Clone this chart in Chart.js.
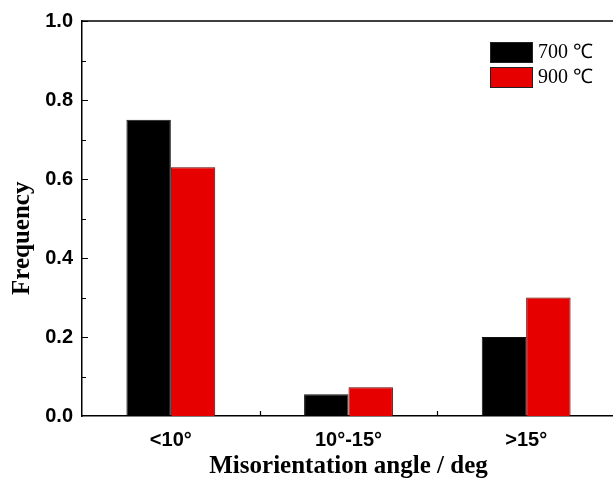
<!DOCTYPE html>
<html>
<head>
<meta charset="utf-8">
<script src="https://cdn.jsdelivr.net/npm/chart.js@4"></script>
<style>
html, body { margin: 0; padding: 0; background: #fff; overflow: hidden; }
#wrap { width: 613px; height: 490px; overflow: hidden; }
</style>
</head>
<body>
<div id="wrap"><canvas id="angleChart" width="620" height="490"></canvas></div>
<script>
const categories = ["<10°", "10°-15°", ">15°"];
const freq700 = [0.75, 0.055, 0.20];
const freq900 = [0.63, 0.073, 0.30];
const seriesLabels = ["700 ℃", "900 ℃"];

// frame top line, inward ticks, y title and boxed legend
const framePlugin = {
  id: "frame",
  afterDraw(chart) {
    const c = chart.ctx;
    const area = chart.chartArea;
    const x = chart.scales.x;
    const y = chart.scales.y;
    c.save();
    c.strokeStyle = "#000";
    c.lineWidth = 1.5;
    c.beginPath();
    c.moveTo(area.left, area.top);
    c.lineTo(area.right, area.top);
    c.stroke();

    c.lineWidth = 1.2;
    c.beginPath();
    for (let v = 0.1; v < 1; v += 0.1) {
      const py = Math.round(y.getPixelForValue(v)) + 0.5;
      const major = Math.round(v * 10) % 2 === 0;
      c.moveTo(area.left, py);
      c.lineTo(area.left + (major ? 6 : 4), py);
    }
    for (let i = 0; i < categories.length - 1; i++) {
      const px = Math.round((x.getPixelForValue(i) + x.getPixelForValue(i + 1)) / 2) + 0.5;
      c.moveTo(px, area.bottom);
      c.lineTo(px, area.bottom - 5);
    }
    c.stroke();

    // y axis title, sitting a bit below the middle like the original
    c.save();
    c.translate(23, y.getPixelForValue(0.45));
    c.rotate(-Math.PI / 2);
    c.fillStyle = "#000";
    c.font = "bold 25px 'Liberation Serif'";
    c.textAlign = "center";
    c.textBaseline = "middle";
    c.fillText("Frequency", 0, 0);
    c.restore();

    // legend
    const lx = area.right - 125;
    let ly = area.top + 21;
    chart.data.datasets.forEach(ds => {
      c.fillStyle = ds.backgroundColor;
      c.fillRect(lx, ly, 43, 21);
      c.strokeStyle = "#222";
      c.lineWidth = 1;
      c.strokeRect(lx + 0.5, ly + 0.5, 42, 20);
      c.fillStyle = "#000";
      c.font = "20px 'Liberation Serif'";
      c.textBaseline = "middle";
      c.fillText(ds.label, lx + 48, ly + 11);
      ly += 25;
    });
    c.restore();
  }
};

new Chart(document.getElementById("angleChart"), {
  type: "bar",
  data: {
    labels: categories,
    datasets: [
      { label: seriesLabels[0], data: freq700, backgroundColor: "#000000", borderColor: "#111111", borderWidth: 1 },
      { label: seriesLabels[1], data: freq900, backgroundColor: "#e60000", borderColor: "#5a0000", borderWidth: 1 }
    ]
  },
  options: {
    responsive: false,
    animation: false,
    layout: { padding: { top: 21, right: 5, left: 0, bottom: 0 } },
    datasets: { bar: { categoryPercentage: 0.5, barPercentage: 1 } },
    plugins: { legend: { display: false }, tooltip: { enabled: false } },
    scales: {
      x: {
        grid: { display: false, drawTicks: false },
        border: { display: true, color: "#000", width: 1.5 },
        ticks: { padding: 12, color: "#000", font: { family: "'Liberation Sans'", size: 20, weight: "bold" } },
        title: {
          display: true,
          text: "Misorientation angle / deg",
          color: "#000",
          font: { family: "'Liberation Serif'", size: 25, weight: "bold" },
          padding: { top: 0, bottom: 8 }
        },
        afterFit: s => { s.height = 74; }
      },
      y: {
        min: 0,
        max: 1,
        grid: { display: false, drawTicks: false },
        border: { display: true, color: "#000", width: 1.5 },
        ticks: {
          stepSize: 0.2,
          padding: 9,
          color: "#000",
          font: { family: "'Liberation Sans'", size: 20, weight: "bold" },
          callback: v => v.toFixed(1)
        },
        title: { display: false },
        afterFit: s => { s.width = 82; }
      }
    }
  },
  plugins: [framePlugin]
});
</script>
</body>
</html>
